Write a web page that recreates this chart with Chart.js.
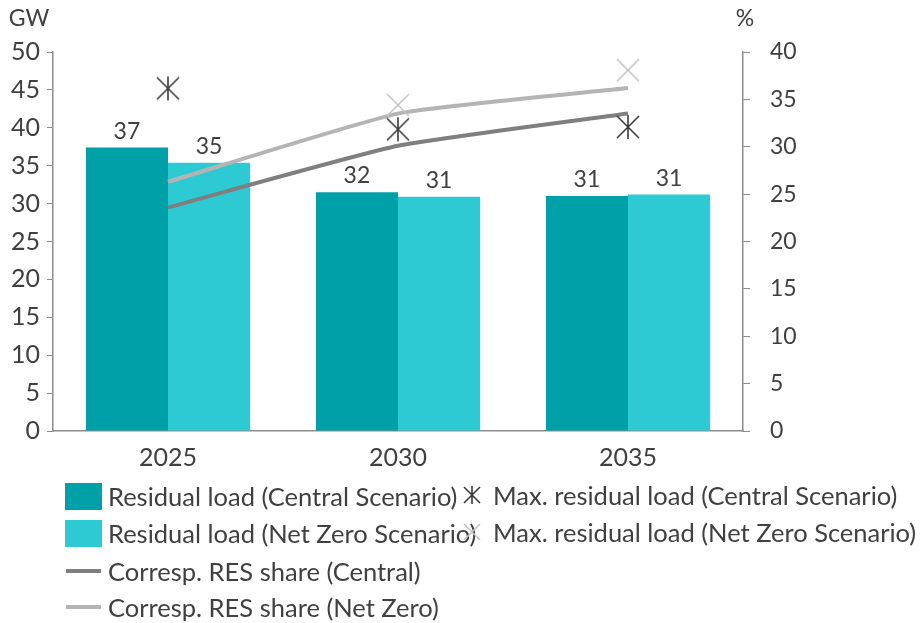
<!DOCTYPE html>
<html>
<head>
<meta charset="utf-8">
<script src="https://cdn.jsdelivr.net/npm/chart.js@4"></script>
<style>
  body { margin: 0; background: #fff; font-family: Lato, sans-serif; }
  #wrap { position: relative; width: 922px; height: 623px; }
  .lg { position: absolute; font-size: 25.5px; color: #404040; white-space: nowrap; line-height: 28px; }
  .sw { position: absolute; }
</style>
</head>
<body>
<div id="wrap">
  <canvas id="chart" width="922" height="623"></canvas>
  <div id="legend"></div>
</div>
<script>
const categories = ['2025', '2030', '2035'];
const residualCentral = [37.4, 31.5, 31.0];
const residualNetZero = [35.4, 30.9, 31.2];
const maxCentral = [45.2, 39.8, 40.1];
const maxNetZero = [null, 43.0, 47.6];
const resShareCentral = [23.6, 30.1, 33.5];
const resShareNetZero = [26.3, 33.5, 36.2];
const leftTicks = [0, 5, 10, 15, 20, 25, 30, 35, 40, 45, 50];
const rightTicks = [0, 5, 10, 15, 20, 25, 30, 35, 40];

const textColor = '#404040';
const axisColor = '#8c8c8c';

// small canvases used as point styles for the max residual load markers
function makeMarker(color, withBar, size) {
    const c = document.createElement('canvas');
    c.width = size; c.height = size;
    const g = c.getContext('2d');
    const e = size - 2;
    g.strokeStyle = color;
    g.lineWidth = 1.6;
    g.beginPath();
    g.moveTo(2, 2); g.lineTo(e, e);
    g.moveTo(e, 2); g.lineTo(2, e);
    if (withBar) { g.moveTo(size / 2, 1); g.lineTo(size / 2, size - 1); }
    g.stroke();
    return c;
}
const starCentral = makeMarker('#3a3a3a', true, 26);
const crossNetZero = makeMarker('#c4c4c4', false, 26);

const barLabels = {
    id: 'barLabels',
    afterDatasetsDraw(chart) {
        const ctx = chart.ctx;
        ctx.save();
        ctx.font = '23px Lato';
        ctx.fillStyle = textColor;
        ctx.textAlign = 'center';
        ctx.textBaseline = 'alphabetic';
        chart.data.datasets.forEach((ds, i) => {
            if (ds.type !== 'bar') return;
            chart.getDatasetMeta(i).data.forEach((bar, j) => {
                ctx.fillText(Math.round(ds.data[j]), bar.x, bar.y - 9);
            });
        });
        ctx.restore();
    }
};

const axisTitles = {
    id: 'axisTitles',
    afterDraw(chart) {
        const ctx = chart.ctx;
        ctx.save();
        ctx.font = '23px Lato';
        ctx.fillStyle = textColor;
        ctx.textAlign = 'center';
        ctx.textBaseline = 'middle';
        ctx.fillText('GW', 29, 19);
        ctx.fillText('%', 745, 19);
        ctx.restore();
    }
};

new Chart(document.getElementById('chart'), {
    data: {
        labels: categories,
        datasets: [
            { type: 'bar', label: 'Residual load (Central Scenario)', data: residualCentral,
              backgroundColor: '#00a0a8', yAxisID: 'y', order: 3 },
            { type: 'bar', label: 'Residual load (Net Zero Scenario)', data: residualNetZero,
              backgroundColor: '#2ecad4', yAxisID: 'y', order: 3 },
            { type: 'line', label: 'Corresp. RES share (Central)', data: resShareCentral,
              borderColor: '#7f7f7f', borderWidth: 4, pointRadius: 0, tension: 0.15, yAxisID: 'y1', order: 2 },
            { type: 'line', label: 'Corresp. RES share (Net Zero)', data: resShareNetZero,
              borderColor: '#b4b4b4', borderWidth: 4, pointRadius: 0, tension: 0.15, yAxisID: 'y1', order: 2 },
            { type: 'line', label: 'Max. residual load (Net Zero Scenario)', data: maxNetZero,
              showLine: false, pointStyle: crossNetZero, yAxisID: 'y', order: 1 },
            { type: 'line', label: 'Max. residual load (Central Scenario)', data: maxCentral,
              showLine: false, pointStyle: starCentral, yAxisID: 'y', order: 0 }
        ]
    },
    options: {
        responsive: false,
        animation: false,
        layout: { padding: { top: 52, left: 0, right: 0, bottom: 0 } },
        datasets: { bar: { categoryPercentage: 0.714, barPercentage: 1.0 } },
        plugins: { legend: { display: false }, tooltip: { enabled: false } },
        scales: {
            x: {
                grid: { display: false },
                border: { color: axisColor, width: 1.5 },
                ticks: { color: textColor, font: { family: 'Lato', size: 25 }, padding: 4 },
                afterFit(s) { s.height = 192; }
            },
            y: {
                position: 'left', min: 0, max: 50,
                afterBuildTicks(s) { s.ticks = leftTicks.map(v => ({ value: v })); },
                grid: { drawOnChartArea: false, tickLength: 6, color: axisColor },
                border: { color: axisColor, width: 1.5 },
                ticks: { color: textColor, font: { family: 'Lato', size: 25 }, padding: 7 },
                afterFit(s) { s.width = 53; }
            },
            y1: {
                position: 'right', min: 0, max: 40,
                afterBuildTicks(s) { s.ticks = rightTicks.map(v => ({ value: v })); },
                grid: { drawOnChartArea: false, tickLength: 7, color: axisColor },
                border: { color: axisColor, width: 1.5 },
                ticks: { color: textColor, font: { family: 'Lato', size: 23 }, padding: 20 },
                afterFit(s) { s.width = 179; }
            }
        }
    },
    plugins: [barLabels, axisTitles]
});

// legend built as html, two columns like the original
const legendItems = [
    { text: 'Residual load (Central Scenario)', kind: 'box', color: '#00a0a8', x: 65, y: 496 },
    { text: 'Residual load (Net Zero Scenario)', kind: 'box', color: '#2ecad4', x: 65, y: 533 },
    { text: 'Corresp. RES share (Central)', kind: 'line', color: '#7f7f7f', x: 65, y: 571 },
    { text: 'Corresp. RES share (Net Zero)', kind: 'line', color: '#b4b4b4', x: 65, y: 607 },
    { text: 'Max. residual load (Central Scenario)', kind: 'marker', img: makeMarker('#3a3a3a', true, 20), x: 462, y: 495 },
    { text: 'Max. residual load (Net Zero Scenario)', kind: 'marker', img: makeMarker('#c4c4c4', false, 20), x: 462, y: 532 }
];
const legendEl = document.getElementById('legend');
legendItems.forEach(it => {
    let sw;
    if (it.kind === 'box') {
        sw = document.createElement('div');
        sw.className = 'sw';
        sw.style.cssText = `left:${it.x}px;top:${it.y - 13}px;width:37px;height:27px;background:${it.color}`;
    } else if (it.kind === 'line') {
        sw = document.createElement('div');
        sw.className = 'sw';
        sw.style.cssText = `left:${it.x + 1}px;top:${it.y - 2}px;width:35px;height:4px;background:${it.color}`;
    } else {
        sw = it.img;
        sw.className = 'sw';
        sw.style.cssText = `left:${it.x}px;top:${it.y - 10}px;`;
    }
    legendEl.appendChild(sw);
    const t = document.createElement('div');
    t.className = 'lg';
    t.textContent = it.text;
    t.style.left = (it.kind === 'marker' ? 493 : it.x + 43) + 'px';
    t.style.top = (it.y - 14) + 'px';
    legendEl.appendChild(t);
});
</script>
</body>
</html>
